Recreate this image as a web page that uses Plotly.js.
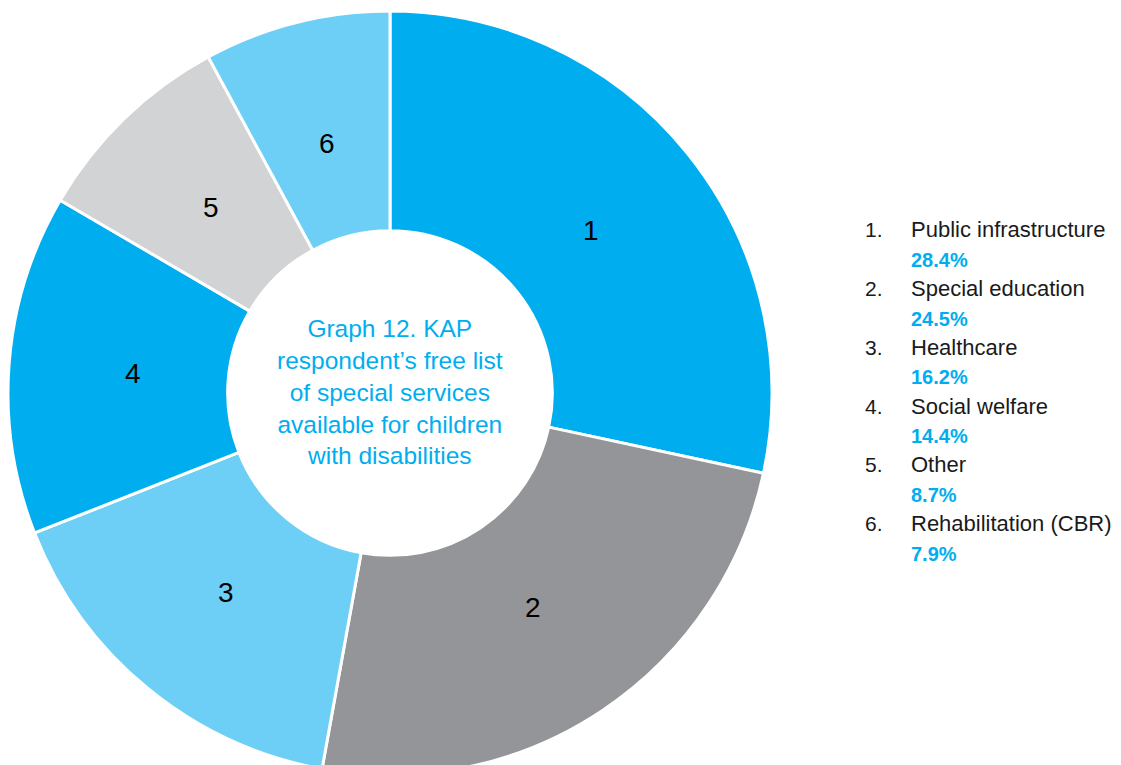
<!DOCTYPE html>
<html>
<head>
<meta charset="utf-8">
<script src="https://cdn.plot.ly/plotly-3.0.1.min.js"></script>
<style>
  html, body { margin: 0; padding: 0; background: #ffffff; overflow: hidden; }
  #chart { width: 1121px; height: 776px; }
</style>
</head>
<body>
<div id="chart"></div>
<script>
// Services named by respondents (share of mentions, %)
const sliceNumbers = ["1", "2", "3", "4", "5", "6"];
const categories = [
  "Public infrastructure",
  "Special education",
  "Healthcare",
  "Social welfare",
  "Other",
  "Rehabilitation (CBR)"
];
const shares = [28.4, 24.5, 16.2, 14.4, 8.7, 7.9];
const sliceColors = ["#00aeef", "#939598", "#6dcff6", "#00aeef", "#d1d3d4", "#6dcff6"];
const centreTitle = [
  "Graph 12. KAP",
  "respondent\u2019s free list",
  "of special services",
  "available for children",
  "with disabilities"
];

const W = 1121, H = 776;
const BLUE = "#00aeef";
const FONT = "Liberation Sans, Arial, sans-serif";

// Ring geometry in pixels
const CX = 390, CY = 393, R_OUT = 382, HOLE = 0.425;

const trace = {
  type: "pie",
  values: shares,
  labels: categories,
  textinfo: "none",
  hole: HOLE,
  sort: false,
  direction: "clockwise",
  rotation: 0,
  marker: { colors: sliceColors, line: { color: "#ffffff", width: 3 } },
  domain: { x: [(CX - R_OUT) / W, (CX + R_OUT) / W], y: [(H - CY - R_OUT) / H, (H - CY + R_OUT) / H] },
  hoverinfo: "label+value",
  showlegend: false
};

// y position in paper units from a pixel offset measured from the top
const py = (px) => (H - px) / H;

const annotations = [];

// Slice numbers, placed at each slice's mid-angle
const total = shares.reduce((a, b) => a + b, 0);
const labelRadius = 0.675 * R_OUT;
let cum = 0;
shares.forEach((v, i) => {
  const mid = (cum + v / 2) / total * 2 * Math.PI;
  cum += v;
  const x = CX + labelRadius * Math.sin(mid);
  const y = CY - labelRadius * Math.cos(mid);
  annotations.push({
    xref: "paper", yref: "paper", x: x / W, y: py(y),
    xanchor: "center", yanchor: "middle", showarrow: false,
    text: sliceNumbers[i],
    font: { family: FONT, size: 28, color: "#000000" }
  });
});

annotations.push({
  xref: "paper", yref: "paper",
  x: CX / W, y: py(392),
  xanchor: "center", yanchor: "middle",
  text: centreTitle.join("<br>"),
  showarrow: false,
  align: "center",
  font: { family: FONT, size: 24.5, color: BLUE }
});

// Numbered key to the right of the ring
const rowTop = 230, rowStep = 58.7;
categories.forEach((name, i) => {
  const y = rowTop + i * rowStep;
  annotations.push({
    xref: "paper", yref: "paper", x: 863 / W, y: py(y),
    xanchor: "left", yanchor: "middle", showarrow: false,
    text: sliceNumbers[i] + ".",
    font: { family: FONT, size: 21, color: "#1a1a1a" }
  });
  annotations.push({
    xref: "paper", yref: "paper", x: 909 / W, y: py(y),
    xanchor: "left", yanchor: "middle", showarrow: false,
    text: name,
    font: { family: FONT, size: 22, color: "#1a1a1a" }
  });
  annotations.push({
    xref: "paper", yref: "paper", x: 909 / W, y: py(y + 30),
    xanchor: "left", yanchor: "middle", showarrow: false,
    text: "<b>" + shares[i].toFixed(1) + "%</b>",
    font: { family: FONT, size: 20, color: BLUE }
  });
});

const layout = {
  width: W,
  height: H,
  margin: { l: 0, r: 0, t: 0, b: 0 },
  paper_bgcolor: "#ffffff",
  plot_bgcolor: "#ffffff",
  showlegend: false,
  annotations: annotations
};

Plotly.newPlot("chart", [trace], layout, { displayModeBar: false, staticPlot: true });
</script>
</body>
</html>
